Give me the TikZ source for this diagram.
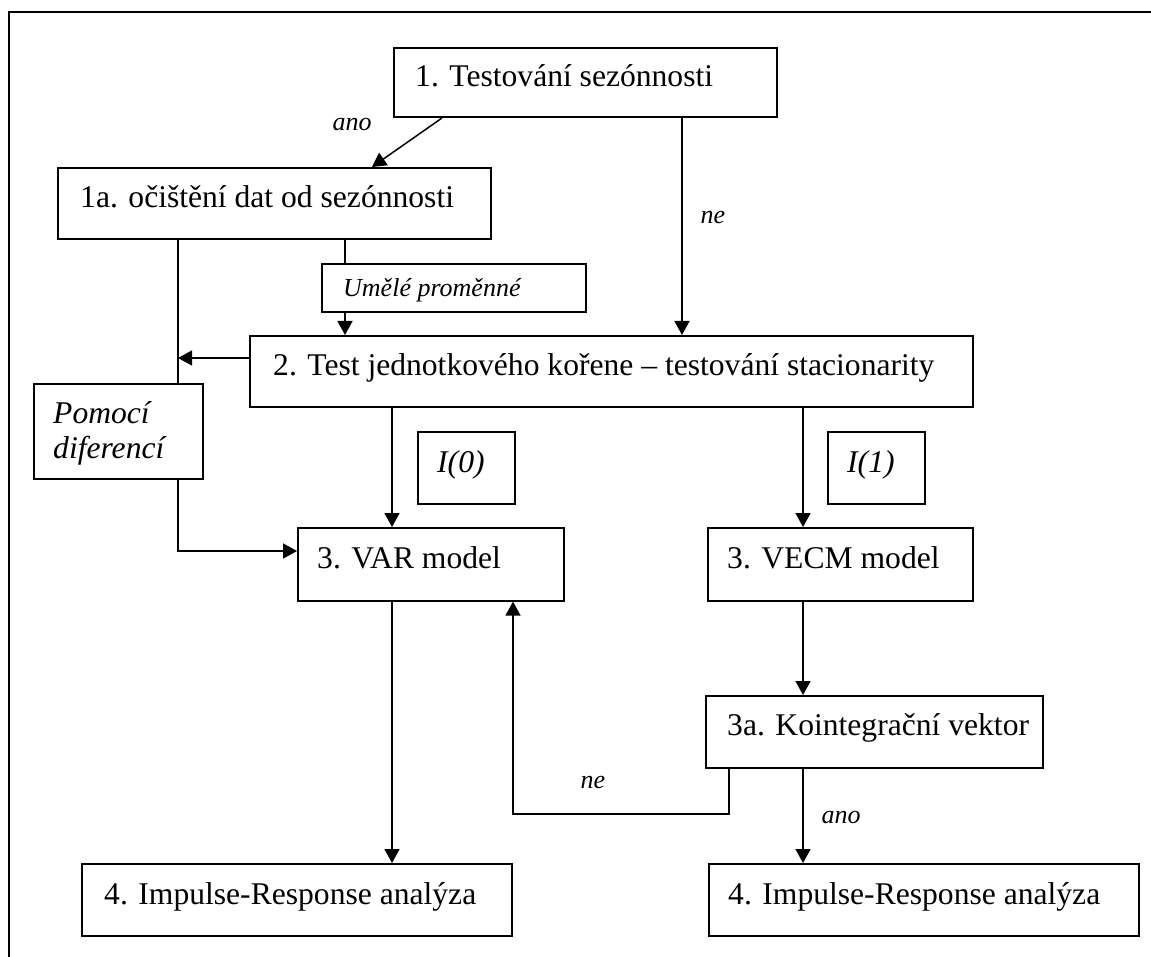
\documentclass[tikz,border=0pt]{standalone}
\usepackage{fontspec}
\setmainfont{Liberation Serif}
\usetikzlibrary{arrows.meta}

\begin{document}
\begin{tikzpicture}[x=1pt,y=-1pt,
  box/.style={draw, line width=1.6pt, rectangle, inner sep=0pt, anchor=north west},
  txt/.style={anchor=base west, inner sep=0pt, font=\fontsize{31.6pt}{36pt}\selectfont},
  itxt/.style={txt, font=\fontsize{31.6pt}{36pt}\selectfont\itshape},
  stxt/.style={txt, font=\fontsize{26pt}{30pt}\selectfont\itshape},
  lbl/.style={anchor=center, inner sep=0pt, font=\fontsize{26pt}{30pt}\selectfont\itshape},
  conn/.style={line width=1.5pt},
  arr/.style={conn, -{Triangle[length=14pt,width=15pt]}}]
\useasboundingbox (0,0) rectangle (1151,957);

% frame
\draw[line width=2pt] (9,957) -- (9,12) -- (1151,12);

% boxes
\node[box, minimum width=383pt, minimum height=69pt] (b1) at (393,47) {};
\node[txt] (b1t) at ([shift={(22,40)}]b1.north west) {1. Testování sezónnosti};

\node[box, minimum width=433pt, minimum height=71pt] (b1a) at (57,167) {};
\node[txt] (b1at) at ([shift={(23,41)}]b1a.north west) {1a. očištění dat od sezónnosti};

\node[box, minimum width=264pt, minimum height=48pt] (dum) at (321,263) {};
\node[stxt] (dumt) at ([shift={(22,34)}]dum.north west) {Umělé proměnné};

\node[box, minimum width=723pt, minimum height=71pt] (b2) at (249,335) {};
\node[txt] (b2t) at ([shift={(24,41)}]b2.north west) {2. Test jednotkového kořene – testování stacionarity};

\node[box, minimum width=169pt, minimum height=95pt] (dif) at (33,383) {};
\node[itxt] (dift1) at ([shift={(20,40)}]dif.north west) {Pomocí};
\node[itxt] (dift2) at ([shift={(20,75)}]dif.north west) {diferencí};

\node[box, minimum width=97pt, minimum height=72pt] (i0) at (417,431) {};
\node[itxt] (i0t) at ([shift={(20,41)}]i0.north west) {I(0)};

\node[box, minimum width=97pt, minimum height=72pt] (i1) at (827,431) {};
\node[itxt] (i1t) at ([shift={(20,41)}]i1.north west) {I(1)};

\node[box, minimum width=266pt, minimum height=73pt] (var) at (297,527) {};
\node[txt] (vart) at ([shift={(20,41)}]var.north west) {3. VAR model};

\node[box, minimum width=265pt, minimum height=73pt] (vecm) at (707,527) {};
\node[txt] (vecmt) at ([shift={(20,41)}]vecm.north west) {3. VECM model};

\node[box, minimum width=337pt, minimum height=72pt] (coint) at (705,695) {};
\node[txt] (cointt) at ([shift={(22,40)}]coint.north west) {3a. Kointegrační vektor};

\node[box, minimum width=430pt, minimum height=72pt] (irl) at (81,863) {};
\node[txt] (irlt) at ([shift={(23,41)}]irl.north west) {4. Impulse-Response analýza};

\node[box, minimum width=430pt, minimum height=72pt] (irr) at (708,863) {};
\node[txt] (irrt) at ([shift={(20,41)}]irr.north west) {4. Impulse-Response analýza};

% helper coordinates for connector columns and rows
\coordinate (cAno) at (442,118);
\coordinate (cAnoEnd) at (372,167);
\coordinate (cNe) at (682,0);
\coordinate (cDum) at (345,0);
\coordinate (cLeft) at (178,358);
\coordinate (cDifRow) at (0,551);
\coordinate (cVar) at (392,0);
\coordinate (cVecm) at (803,0);
\coordinate (cBack) at (729,0);
\coordinate (cBackRow) at (513,814);

% connectors
\draw[arr] (cAno) -- (cAnoEnd);
\draw[arr] (b1.south -| cNe) -- (b2.north -| cNe);
\draw[conn] (b1a.south -| cDum) -- (dum.north -| cDum);
\draw[arr] (dum.south -| cDum) -- (b2.north -| cDum);
\draw[conn] (b1a.south -| cLeft) -- (dif.north -| cLeft);
\draw[arr] (b2.west |- cLeft) -- (cLeft);
\draw[arr] (dif.south -| cLeft) |- (var.west |- cDifRow);
\draw[arr] (b2.south -| cVar) -- (var.north -| cVar);
\draw[arr] (b2.south -| cVecm) -- (vecm.north -| cVecm);
\draw[arr] (vecm.south -| cVecm) -- (coint.north -| cVecm);
\draw[arr] (var.south -| cVar) -- (irl.north -| cVar);
\draw[arr] (coint.south -| cVecm) -- (irr.north -| cVecm);
\draw[arr] (coint.south -| cBack) |- (cBackRow) -- (var.south -| cBackRow);

% branch labels
\node[lbl] (lAno1) at (352,125) {ano};
\node[lbl] (lNe1) at (713,218) {ne};
\node[lbl] (lNe2) at (593,782) {ne};
\node[lbl] (lAno2) at (841,818) {ano};
\end{tikzpicture}
\end{document}
